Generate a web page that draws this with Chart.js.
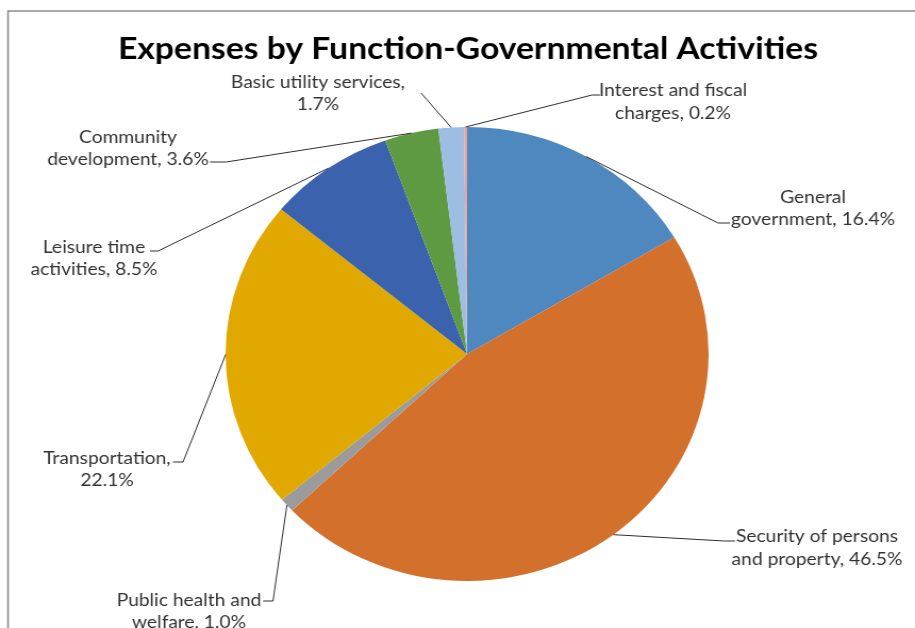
<!DOCTYPE html>
<html>
<head>
<meta charset="utf-8">
<script src="https://cdn.jsdelivr.net/npm/chart.js@4.4.1/dist/chart.umd.min.js"></script>
<style>
html,body{margin:0;padding:0;background:#fff;overflow:hidden;width:915px;height:628px}
#c{position:absolute;left:0;top:0;width:860px;height:628px;transform-origin:0 0;transform:scaleX(1.063953)}
</style>
</head>
<body>
<canvas id="c" width="860" height="628"></canvas>
<script>
// ---- data ----
const chartTitle = 'Expenses by Function-Governmental Activities';
const categories = [
  'General government',
  'Security of persons and property',
  'Public health and welfare',
  'Transportation',
  'Leisure time activities',
  'Community development',
  'Basic utility services',
  'Interest and fiscal charges'
];
const values = [16.4, 46.5, 1.0, 22.1, 8.5, 3.6, 1.7, 0.2];
const sliceColors = ['#4F87BF', '#D3702C', '#9B9B9B', '#E1A800', '#3B63AD', '#5E9A42', '#9EBDE2', '#E8A597'];
// number of words on the first line of each data label
const labelSplit = [1, 3, 3, 1, 2, 1, 3, 3];

// ---- layout (reference pixel coordinates) ----
const SX = 915 / 860;
// label centre x, first & second line centre y, leader elbow and end point
const labelLayout = [
  {x: 813, y: [197, 219], elbow: [718, 223], end: [730, 223]},
  {x: 817, y: [536, 559], elbow: [724, 541], end: [735, 541]},
  {x: 189, y: [600, 622], elbow: [273, 601], end: [263, 601]},
  {x: 107, y: [458, 480], elbow: [183, 462], end: [173, 462]},
  {x: 94,  y: [247, 269], elbow: [158, 251], end: [150, 251]},
  {x: 128, y: [137, 159], elbow: [226, 162], end: [210, 162]},
  {x: 318, y: [82, 104],  elbow: [421, 93],  end: [421, 93]},
  {x: 673, y: [90, 113],  elbow: [592, 95],  end: [600, 95]}
];

function labelLinesFor(i) {
  const words = (categories[i] + ', ' + values[i].toFixed(1) + '%').split(' ');
  return [words.slice(0, labelSplit[i]).join(' '), words.slice(labelSplit[i]).join(' ')];
}

const decorPlugin = {
  id: 'decor',
  afterDraw(chart) {
    const ctx = chart.ctx;
    ctx.save();
    // frame
    ctx.strokeStyle = '#8c8c8c';
    ctx.lineWidth = 1.6;
    ctx.beginPath();
    ctx.moveTo(8 / SX, 640);
    ctx.lineTo(8 / SX, 11);
    ctx.lineTo(870, 11);
    ctx.stroke();

    // title
    ctx.fillStyle = '#000';
    ctx.font = 'bold 31px Lato, "Open Sans", sans-serif';
    ctx.textAlign = 'center';
    ctx.textBaseline = 'alphabetic';
    const tw = ctx.measureText(chartTitle).width;
    const tk = (700 / SX) / tw;
    ctx.save();
    ctx.translate(468 / SX, 59);
    ctx.scale(tk, 1);
    ctx.fillText(chartTitle, 0, 0);
    ctx.restore();

    // labels & leader lines
    const meta = chart.getDatasetMeta(0);
    ctx.font = '18px Lato, "Open Sans", sans-serif';
    const refW = ctx.measureText('government, 16.4%').width;
    const lk = (164 / SX) / refW;
    meta.data.forEach((arc, i) => {
      const L = labelLayout[i];
      const mid = (arc.startAngle + arc.endAngle) / 2;
      const px = arc.x + Math.cos(mid) * arc.outerRadius;
      const py = arc.y + Math.sin(mid) * arc.outerRadius;
      ctx.strokeStyle = '#2e2e2e';
      ctx.lineWidth = 1;
      ctx.beginPath();
      ctx.moveTo(px, py);
      ctx.lineTo(L.elbow[0] / SX, L.elbow[1]);
      ctx.lineTo(L.end[0] / SX, L.end[1]);
      ctx.stroke();

      const lines = labelLinesFor(i);
      ctx.fillStyle = '#333';
      ctx.textAlign = 'center';
      ctx.textBaseline = 'middle';
      lines.forEach((t, j) => {
        ctx.save();
        ctx.translate(L.x / SX, L.y[j]);
        ctx.scale(lk, 1);
        ctx.fillText(t, 0, 0);
        ctx.restore();
      });
    });
    ctx.restore();
  }
};

new Chart(document.getElementById('c'), {
  type: 'pie',
  data: {
    labels: categories,
    datasets: [{
      data: values,
      backgroundColor: sliceColors,
      borderWidth: 0
    }]
  },
  options: {
    responsive: false,
    animation: false,
    layout: {padding: {top: 127, bottom: 47, left: 212, right: 194}},
    plugins: {
      legend: {display: false},
      title: {display: false},
      tooltip: {enabled: false}
    }
  },
  plugins: [decorPlugin]
});
</script>
</body>
</html>
